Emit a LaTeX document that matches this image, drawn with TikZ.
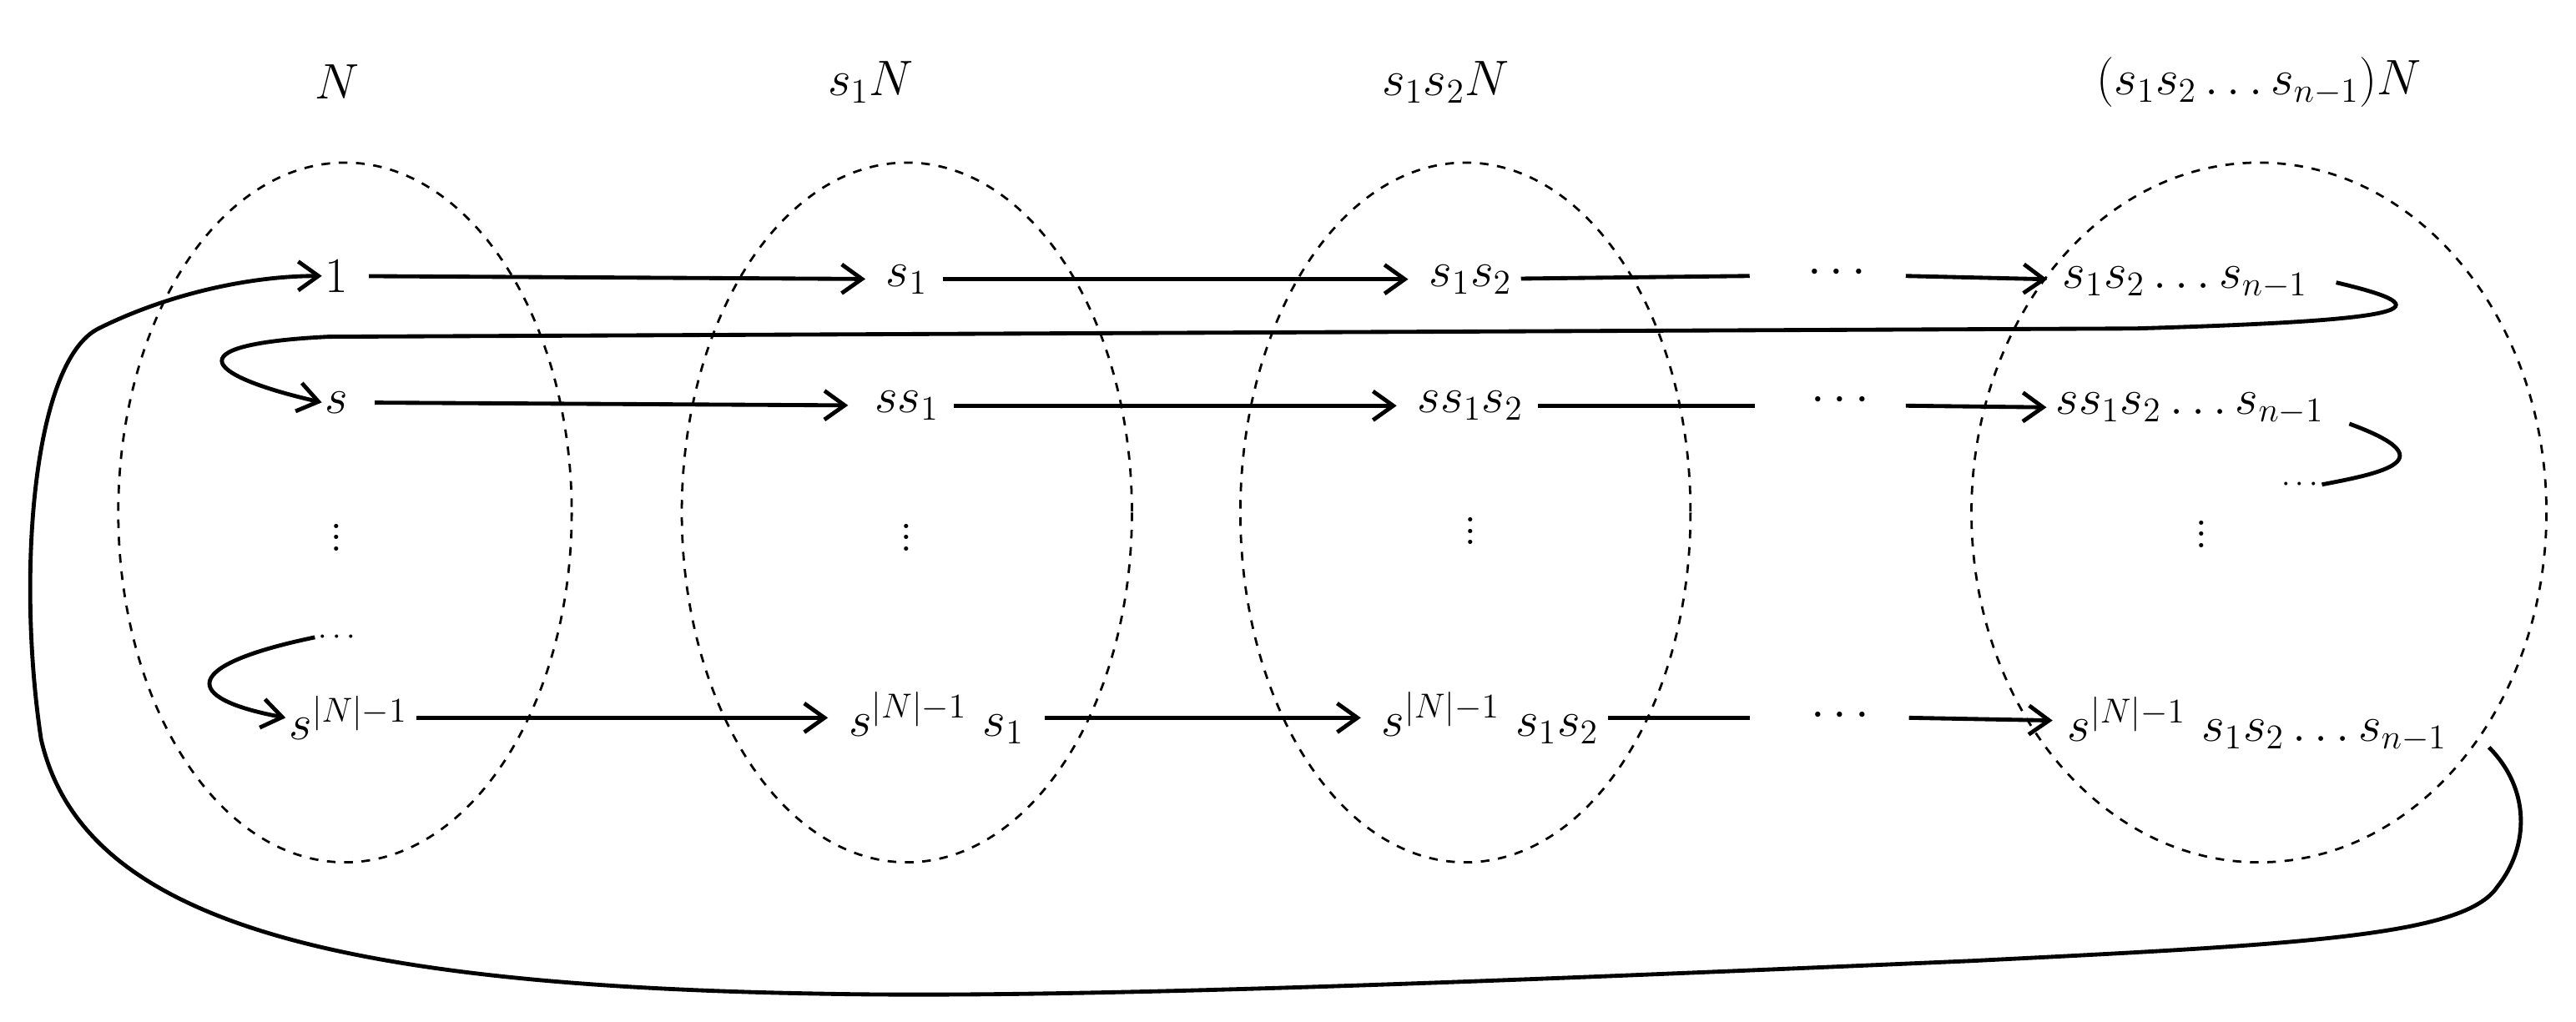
\documentclass[tikz,border=0pt]{standalone}
\usetikzlibrary{arrows.meta}
\begin{document}
\begin{tikzpicture}[x=0.02cm,y=-0.02cm,
  lab/.style={inner sep=1pt,font=\fontsize{18}{22}\selectfont},
  arr/.style={line width=1.4pt,-{Straight Barb[length=7pt,width=10pt]}},
  ln/.style={line width=1.4pt},
  ell/.style={dashed,line width=0.8pt}]
\useasboundingbox (0,0) rectangle (1568,622);
\draw[ell] (210,312) ellipse [x radius=138,y radius=213];
\draw[ell] (552,312) ellipse [x radius=137,y radius=213];
\draw[ell] (892,312) ellipse [x radius=137,y radius=213];
\draw[ell] (1375,312) ellipse [x radius=175,y radius=213];
\node[lab] (t1) at (205,50) {$N$};
\node[lab] (t2) at (530,50) {$s_1N$};
\node[lab] (t3) at (880,50) {$s_1s_2N$};
\node[lab] (t4) at (1375,50) {$(s_1s_2\ldots s_{n-1})N$};
% row 1
\node[lab] (a1) at (205,168) {$1$};
\node[lab] (a2) at (552,170) {$s_1$};
\node[lab] (a3) at (895,170) {$s_1s_2$};
\node[lab] (a5) at (1118,166) {$\cdots$};
\node[lab] (a4) at (1330,172) {$s_1s_2\ldots s_{n-1}$};
\draw[arr,shorten >=6pt,shorten <=6pt] (a1) -- (a2);
\draw[arr,shorten >=6pt,shorten <=4pt] (a2) -- (a3);
\draw[ln,shorten <=2pt] (a3) -- (1065,168);
\draw[arr,shorten >=4pt] (1160,168) -- (a4);
% row 2
\node[lab] (b1) at (205,245) {$s$};
\node[lab] (b2) at (552,247) {$ss_1$};
\node[lab] (b3) at (895,247) {$ss_1s_2$};
\node[lab] (b5) at (1120,244) {$\cdots$};
\node[lab] (b4) at (1333,249) {$ss_1s_2\ldots s_{n-1}$};
\draw[arr,shorten >=8pt,shorten <=8pt] (b1) -- (b2);
\draw[arr,shorten >=6pt,shorten <=4pt] (b2) -- (b3);
\draw[ln,shorten <=4pt] (b3) -- (1068,247);
\draw[arr,shorten >=2pt] (1160,247) -- (b4);
\node[lab,font=\fontsize{11}{12}\selectfont] (bd) at (1400,295) {$\cdots$};
% vdots
\node[lab] (v1) at (205,322) {$\vdots$};
\node[lab] (v2) at (552,322) {$\vdots$};
\node[lab] (v3) at (895,318) {$\vdots$};
\node[lab] (v4) at (1340,320) {$\vdots$};
% row 4
\node[lab,font=\fontsize{11}{12}\selectfont] (cd) at (205,388) {$\cdots$};
\node[lab] (c1) at (212,437) {$s^{|N|-1}$};
\node[lab] (c2) at (570,437) {$s^{|N|-1}\ s_1$};
\node[lab] (c3) at (907,437) {$s^{|N|-1}\ s_1s_2$};
\node[lab] (c5) at (1120,436) {$\cdots$};
\node[lab] (c4) at (1374,441) {$s^{|N|-1}\ s_1s_2\ldots s_{n-1}$};
\draw[arr,shorten >=6pt,shorten <=2pt] (c1) -- (c2);
\draw[arr,shorten >=6pt,shorten <=6pt] (c2) -- (c3);
\draw[ln,shorten <=2pt] (c3) -- (1065,437);
\draw[arr,shorten >=4pt] (1162,437) -- (c4);
% curves
\draw[arr] (1422,172) .. controls (1490,188) and (1470,195) .. (1300,200)
  -- (200,205) .. controls (100,210) and (130,230) .. (b1.west);
\draw[ln] (1430,258) .. controls (1490,280) and (1450,288) .. (bd.east);
\draw[arr] (cd.west) .. controls (110,405) and (110,425) .. (c1.west);
\draw[arr] (1515,455) .. controls (1540,480) and (1540,515) .. (1520,540)
  .. controls (1500,570) and (1400,575) .. (1200,585)
  .. controls (900,598) and (650,608) .. (500,605)
  .. controls (200,600) and (50,560) .. (25,450)
  .. controls (10,350) and (20,220) .. (60,200)
  .. controls (100,180) and (150,168) .. (a1.west);
\end{tikzpicture}
\end{document}
